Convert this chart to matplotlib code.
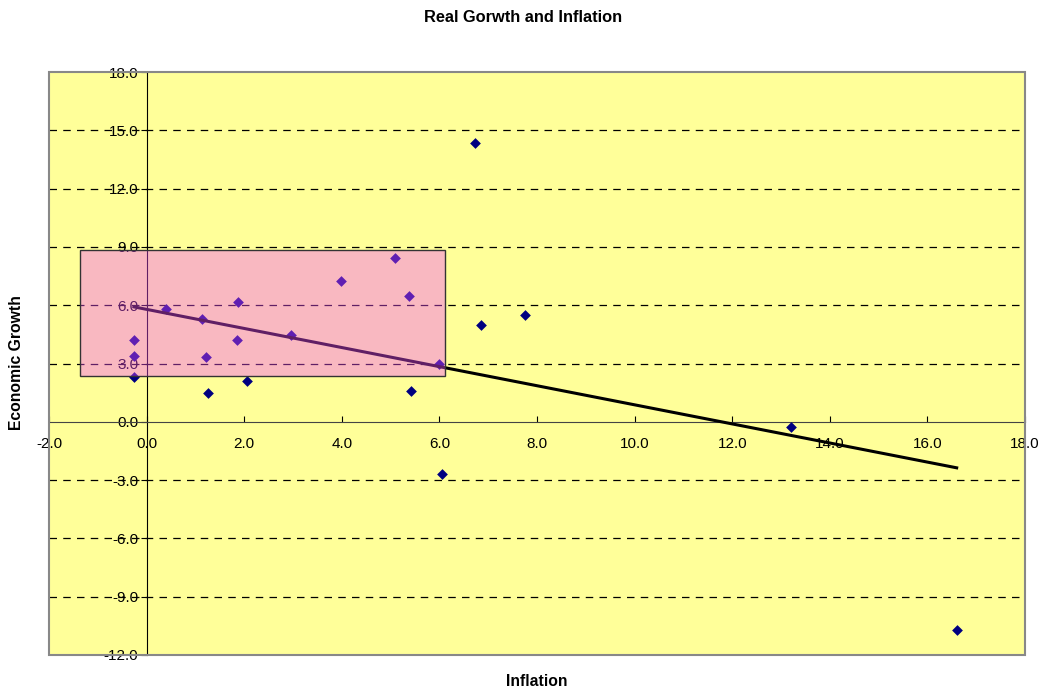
import numpy as np
import matplotlib
matplotlib.use("Agg")
import matplotlib.pyplot as plt
from matplotlib.patches import Rectangle

plt.rcParams['font.family'] = ['Liberation Sans', 'DejaVu Sans']

inflation = [-0.26, -0.26, -0.26, 0.40, 1.14, 1.22, 1.26, 1.88, 1.85, 2.06, 2.96,
             3.98, 5.09, 5.38, 5.42, 5.99, 6.05, 6.73, 6.85, 7.76, 13.2, 16.6]
growth = [4.21, 3.39, 2.31, 5.79, 5.29, 3.34, 1.48, 6.16, 4.21, 2.10, 4.47,
          7.25, 8.43, 6.47, 1.59, 2.97, -2.69, 14.35, 4.98, 5.50, -0.27, -10.72]

box_x = [-1.36, 6.11]
box_y = [2.36, 8.84]

x_ticks = [-2.0, 0.0, 2.0, 4.0, 6.0, 8.0, 10.0, 12.0, 14.0, 16.0, 18.0]
y_ticks = [-12.0, -9.0, -6.0, -3.0, 0.0, 3.0, 6.0, 9.0, 12.0, 15.0, 18.0]

fig = plt.figure(figsize=(10.43, 6.93), dpi=100)
ax = fig.add_axes([49/1043, 1-655/693, (1025-49)/1043, (655-72)/693])
ax.set_facecolor('#FFFF99')
ax.set_xlim(-2, 18)
ax.set_ylim(-12, 18)

for yt in y_ticks:
    if yt not in (0.0, 18.0, -12.0):
        ax.axhline(yt, color='black', ls=(0, (6, 5)), lw=0.9, zorder=1)

ax.scatter(inflation, growth, marker='D', s=30, color='#000080', zorder=3, linewidths=0)

coef = np.polyfit(inflation, growth, 1)
xs = np.array([min(inflation), max(inflation)])
ax.plot(xs, np.polyval(coef, xs), color='black', lw=2.2, zorder=4)

ax.add_patch(Rectangle((box_x[0], box_y[0]), box_x[1]-box_x[0], box_y[1]-box_y[0],
                       facecolor=(0.95, 0.31, 1.0), alpha=0.4, edgecolor='none', zorder=5))
ax.add_patch(Rectangle((box_x[0], box_y[0]), box_x[1]-box_x[0], box_y[1]-box_y[0],
                       facecolor='none', edgecolor='#333333', lw=1.0, zorder=6))

ax.spines['left'].set_position(('data', 0))
ax.spines['bottom'].set_position(('data', 0))
ax.spines['left'].set_color('black')
ax.spines['bottom'].set_color('#444444')
ax.spines['top'].set_visible(False)
ax.spines['right'].set_visible(False)
ax.add_patch(Rectangle((0, 0), 1, 1, transform=ax.transAxes, fill=False,
                       edgecolor='#888888', lw=1.5, zorder=7, clip_on=False))

ax.set_xticks(x_ticks)
ax.set_yticks(y_ticks)
ax.set_xticklabels([f'{v:.1f}' for v in x_ticks])
ax.set_yticklabels([f'{v:.1f}' for v in y_ticks])
ax.tick_params(axis='x', direction='in', length=4, pad=11, labelsize=11)
ax.tick_params(axis='y', direction='out', length=4, pad=2, labelsize=11)
for lbl in ax.get_xticklabels() + ax.get_yticklabels():
    lbl.set_zorder(8)

fig.text(523/1043, 1-18/693, 'Real Gorwth and Inflation', ha='center', va='center',
         fontsize=11.8, fontweight='bold')
fig.text(537/1043, 1-682/693, 'Inflation', ha='center', va='center',
         fontsize=11.3, fontweight='bold')
fig.text(17/1043, 1-363/693, 'Economic Growth', ha='center', va='center',
         fontsize=11.3, fontweight='bold', rotation=90)

fig.savefig('out.png', dpi=100)
